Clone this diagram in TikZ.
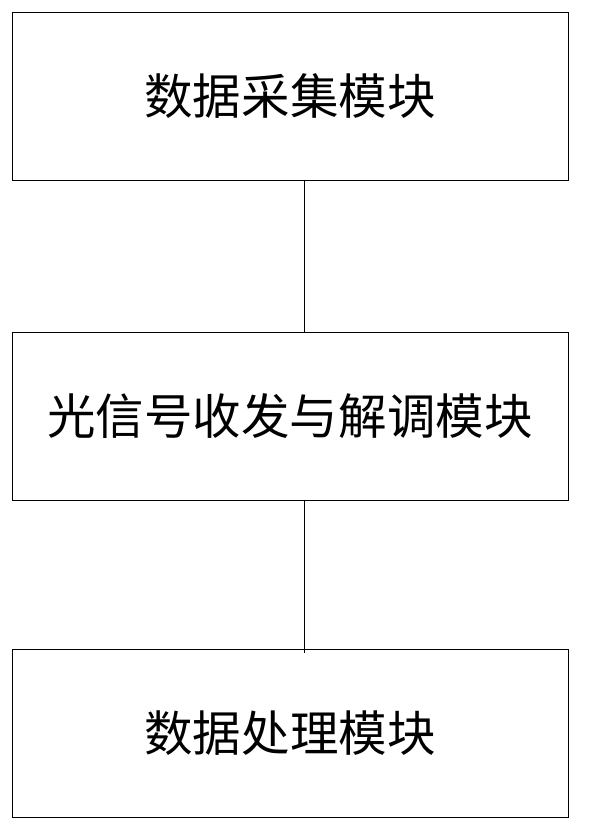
\documentclass[tikz,border=0pt]{standalone}
\usepackage{fontspec}
\newfontfamily\cjk{Noto Sans CJK SC}
\usepackage{tikz}
\usetikzlibrary{positioning, calc}

\begin{document}
\begin{tikzpicture}[
  module/.style={draw, line width=0.7pt, minimum width=13.9cm, minimum height=4.2cm, inner sep=0pt, font=\cjk\fontsize{34.5}{40}\selectfont},
  link/.style={line width=0.7pt}
]
  \useasboundingbox (0, 0) rectangle (14.8, -20.8);

  % Modules
  \node[module] (acq) at (7.25, -2.4) {数据采集模块};
  \node[module] (optic) at (7.25, -10.4) {光信号收发与解调模块};
  \node[module] (proc) at (7.25, -18.325) {数据处理模块};

  % Connectors
  \coordinate (axis) at (7.6, 0);
  \draw[link] (acq.south -| axis) -- (optic.north -| axis);
  \draw[link] (optic.south -| axis) -- ($(proc.north -| axis)+(0, -0.12)$);
\end{tikzpicture}
\end{document}
